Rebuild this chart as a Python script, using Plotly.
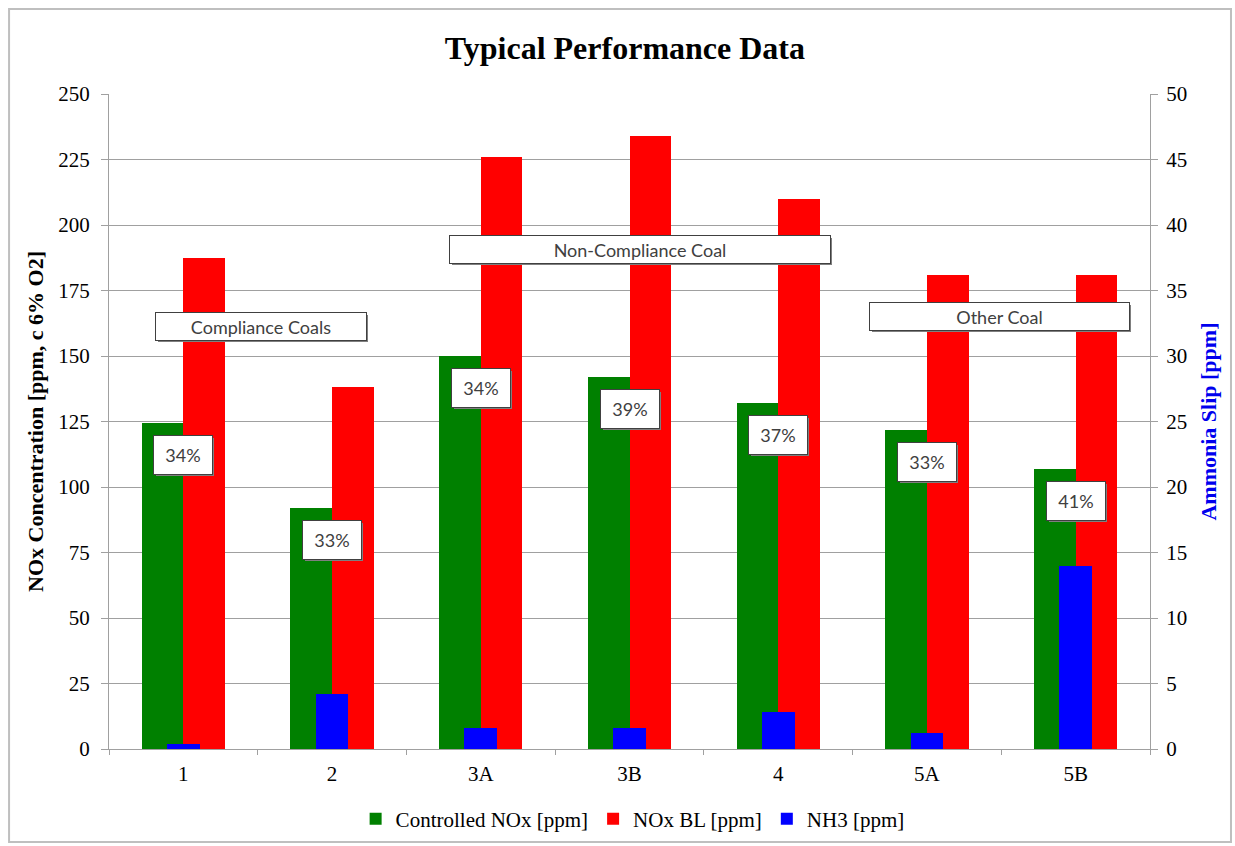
import plotly.graph_objects as go

# Test cases and measured values
categories = ["1", "2", "3A", "3B", "4", "5A", "5B"]
controlled_nox = [124.3, 92.0, 150.0, 142.0, 132.0, 121.7, 107.0]
baseline_nox = [187.3, 138.0, 226.0, 234.0, 210.0, 181.0, 181.0]
nh3_slip = [0.4, 4.2, 1.6, 1.6, 2.8, 1.2, 14.0]

left_ticks = [0, 25, 50, 75, 100, 125, 150, 175, 200, 225, 250]
right_ticks = [0, 5, 10, 15, 20, 25, 30, 35, 40, 45, 50]

# Coal-group captions: (text, x position in category units, y in ppm, box width px)
groups = [
    ("Compliance Coals", 0.52, 161.4, 210),
    ("Non-Compliance Coal", 3.07, 190.5, 380),
    ("Other Coal", 5.49, 165.0, 259),
]

# NOx reduction achieved relative to baseline
reductions = [f"{round((b - c) / b * 100)}%" for c, b in zip(controlled_nox, baseline_nox)]

SERIF = "Liberation Serif, Times New Roman, serif"
SANS = "Lato, Carlito, Open Sans, sans-serif"
GRID = "#a0a0a0"

fig = go.Figure()
fig.add_trace(go.Bar(
    x=categories, y=controlled_nox, name="Controlled NOx [ppm]",
    marker=dict(color="#008000", line=dict(width=0)),
    offset=-0.28, width=0.28,
))
fig.add_trace(go.Bar(
    x=categories, y=baseline_nox, name="NOx BL [ppm]",
    marker=dict(color="#ff0000", line=dict(width=0)),
    offset=0.0, width=0.28,
))
fig.add_trace(go.Bar(
    x=categories, y=nh3_slip, name="NH3 [ppm]", yaxis="y2",
    marker=dict(color="#0000ff", line=dict(width=0)),
    offset=-0.11, width=0.22,
))

annotations = []


def boxed(text, x, y, w, h, size, yshift=0):
    # soft drop shadow, then the white caption box on top
    annotations.append(dict(
        x=x, y=y, xref="x", yref="y", text="", showarrow=False,
        width=w, height=h, bgcolor="#7f7f7f", borderwidth=0, borderpad=0,
        xshift=2, yshift=yshift - 2,
    ))
    annotations.append(dict(
        x=x, y=y, xref="x", yref="y", text=text, showarrow=False,
        width=w, height=h, bgcolor="white", bordercolor="#404040",
        borderwidth=1, borderpad=0, yshift=yshift,
        font=dict(family=SANS, size=size, color="#404040"),
    ))


for text, gx, gy, gw in groups:
    boxed(text, gx, gy, gw, 27, 18)

for i, (c, lab) in enumerate(zip(controlled_nox, reductions)):
    boxed(lab, i, c, 58, 38, 18, yshift=-32)

fig.update_layout(
    width=1235, height=846,
    margin=dict(l=109, r=85, t=94, b=97, autoexpand=False),
    paper_bgcolor="white", plot_bgcolor="white",
    barmode="overlay", bargap=0,
    title=dict(
        text="<b>Typical Performance Data</b>",
        x=0.506, xanchor="center", y=0.943, yanchor="middle",
        font=dict(family=SERIF, size=32, color="black"),
    ),
    font=dict(family=SERIF, size=21, color="black"),
    xaxis=dict(
        type="category", range=[-0.5, 6.5], automargin=False,
        showline=True, linecolor=GRID, linewidth=1,
        ticks="outside", tickson="boundaries", ticklen=5, tickcolor=GRID,
        ticklabelstandoff=6,
        showgrid=False,
        tickfont=dict(family=SERIF, size=21, color="black"),
    ),
    yaxis=dict(
        range=[0, 250], tickvals=left_ticks, automargin=False,
        showline=True, linecolor=GRID, linewidth=1,
        ticks="outside", ticklen=7, tickcolor=GRID, ticklabelstandoff=7,
        showgrid=True, gridcolor=GRID, gridwidth=1, zeroline=False,
        tickfont=dict(family=SERIF, size=21, color="black"),
        title=dict(text="<b>NOx Concentration [ppm, c 6% O2]</b>",
                   font=dict(family=SERIF, size=22, color="black"), standoff=8),
    ),
    yaxis2=dict(
        range=[0, 50], tickvals=right_ticks, overlaying="y", side="right",
        automargin=False,
        showline=True, linecolor=GRID, linewidth=1,
        ticks="outside", ticklen=7, tickcolor=GRID, ticklabelstandoff=4,
        showgrid=False, zeroline=False,
        tickfont=dict(family=SERIF, size=21, color="black"),
        title=dict(text="<b>Ammonia Slip [ppm]</b>",
                   font=dict(family=SERIF, size=22, color="#0000ee"), standoff=14),
    ),
    legend=dict(
        orientation="h", x=0.503, xanchor="center", y=-0.107, yanchor="middle",
        font=dict(family=SERIF, size=21, color="black"),
        itemwidth=30, traceorder="normal", bgcolor="rgba(0,0,0,0)",
    ),
    annotations=annotations,
    shapes=[dict(
        type="rect", xref="paper", yref="paper",
        x0=-0.0960, x1=1.0778, y0=-0.1420, y1=1.1298,
        line=dict(color="#bfbfbf", width=2), fillcolor="rgba(0,0,0,0)", layer="below",
    )],
)

fig.write_html("out.html")
